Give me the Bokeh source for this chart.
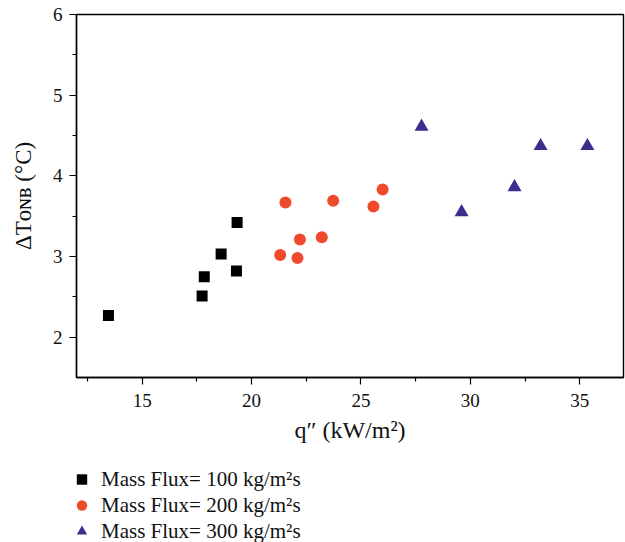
import math
from bokeh.plotting import figure
from bokeh.layouts import column
from bokeh.models import Range1d, Legend, LegendItem, FixedTicker
from bokeh.embed import file_html
from bokeh.resources import INLINE

# Data
q_100 = [13.46, 17.74, 17.84, 18.61, 19.31, 19.34]
dt_100 = [2.27, 2.51, 2.75, 3.03, 2.82, 3.42]
q_200 = [21.31, 22.10, 22.21, 21.55, 23.21, 23.73, 25.57, 25.99]
dt_200 = [3.02, 2.98, 3.21, 3.67, 3.24, 3.69, 3.62, 3.83]
q_300 = [27.77, 29.60, 32.02, 33.21, 35.35]
dt_300 = [4.61, 3.55, 3.86, 4.37, 4.37]

labels = ["Mass Flux= 100 kg/m\u00b2s", "Mass Flux= 200 kg/m\u00b2s", "Mass Flux= 300 kg/m\u00b2s"]
x_ticks = [15, 20, 25, 30, 35]
x_minor = [12.5, 17.5, 22.5, 27.5, 32.5]
y_ticks = [2, 3, 4, 5, 6]
y_minor = [2.5, 3.5, 4.5, 5.5]

FONT = "Liberation Serif"
BLACK = "#000000"
RED = "#EF4A2B"
BLUE = "#3A2F8F"
markers = ["square", "circle", "triangle"]
colors = [BLACK, RED, BLUE]
series = [(q_100, dt_100), (q_200, dt_200), (q_300, dt_300)]

p = figure(width=625, height=455, x_range=Range1d(12, 37), y_range=Range1d(1.5, 6),
           output_backend="svg", toolbar_location=None,
           min_border_left=76, min_border_right=2, min_border_top=14, min_border_bottom=78)
p.grid.visible = False
p.outline_line_color = "black"
p.outline_line_width = 1.4
p.background_fill_color = "white"
p.border_fill_color = "white"

p.scatter(q_100, dt_100, marker="square", size=11, fill_color=BLACK, line_color=BLACK, line_width=0)
p.scatter(q_200, dt_200, marker="circle", size=12, fill_color=RED, line_color=RED, line_width=0)
p.scatter(q_300, dt_300, marker="triangle", size=14, fill_color=BLUE, line_color=BLUE, line_width=0)

for ax in (p.xaxis[0], p.yaxis[0]):
    ax.axis_line_width = 1.4
    ax.major_tick_line_width = 1.2
    ax.minor_tick_line_width = 1.2
    ax.major_tick_in = 0
    ax.major_tick_out = 7
    ax.minor_tick_in = 0
    ax.minor_tick_out = 4
    ax.major_label_text_font = FONT
    ax.major_label_text_font_size = "19px"
    ax.major_label_text_color = "#111111"

p.xaxis.ticker = FixedTicker(ticks=x_ticks, minor_ticks=x_minor)
p.yaxis.ticker = FixedTicker(ticks=y_ticks, minor_ticks=y_minor)
p.xaxis.major_label_standoff = 9
p.yaxis.major_label_standoff = 7
p.xaxis.axis_label = "q\u2033 (kW/m\u00b2)"
p.xaxis.axis_label_text_font = FONT
p.xaxis.axis_label_text_font_size = "24px"
p.xaxis.axis_label_text_font_style = "normal"
p.xaxis.axis_label_text_color = "#111111"
p.xaxis.axis_label_standoff = 7
p.yaxis.axis_label = "\u0394T\u1d0f\u0274\u0299 (\u00b0C)"
p.yaxis.axis_label_text_font = FONT
p.yaxis.axis_label_text_font_size = "23px"
p.yaxis.axis_label_text_font_style = "normal"
p.yaxis.axis_label_text_color = "#111111"
p.yaxis.axis_label_standoff = 14

# Legend strip below the plot (its renderers hold the series' data, outside the strip's view)
lg = figure(width=625, height=87, x_range=Range1d(0, 1), y_range=Range1d(0, 1),
            output_backend="svg", toolbar_location=None, x_axis_type=None, y_axis_type=None,
            min_border_left=0, min_border_right=0, min_border_top=0, min_border_bottom=0)
lg.grid.visible = False
lg.outline_line_color = None
lg.background_fill_color = "white"
lg.border_fill_color = "white"
items = []
for lab, mk, col, (qs, ts) in zip(labels, markers, colors, series):
    rr = lg.scatter(x=qs, y=ts, marker=mk, fill_color=col, line_color=col, line_width=0)
    items.append(LegendItem(label=lab, renderers=[rr], index=0))

legend = Legend(items=items, location=(-8, -2), orientation="vertical")
legend.label_text_font = FONT
legend.label_text_font_size = "21px"
legend.label_text_color = "#111111"
legend.border_line_color = None
legend.background_fill_alpha = 0
legend.padding = 0
legend.margin = 0
legend.spacing = 0
legend.glyph_width = 27
legend.glyph_height = 26
legend.label_height = 26
legend.label_standoff = 6
lg.add_layout(legend)

open("out.html", "w").write(file_html(column(p, lg, spacing=0), INLINE))
